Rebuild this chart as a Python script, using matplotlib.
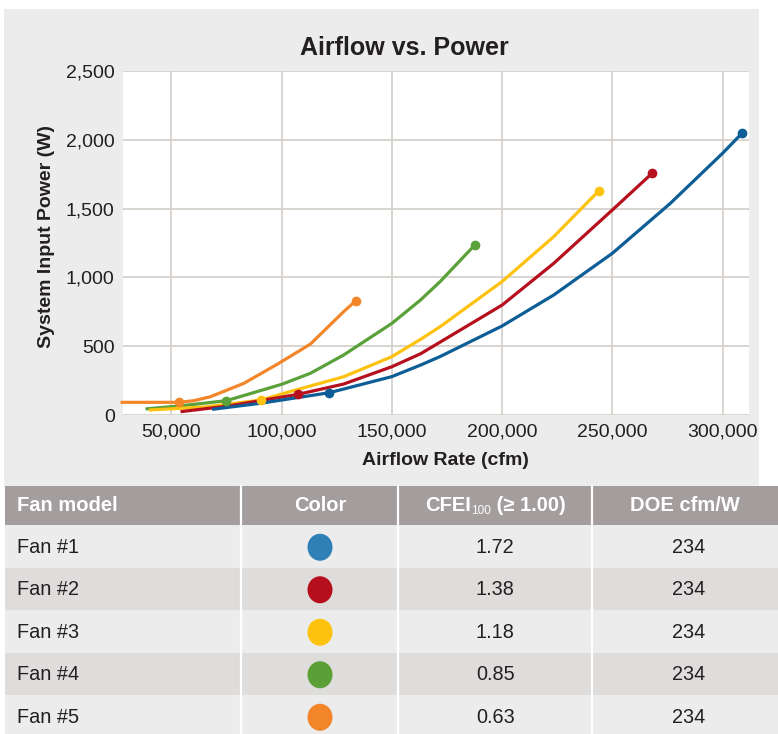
"""
Airflow vs. Power chart with the fan comparison table underneath.
"""

import matplotlib
matplotlib.use("Agg")
import matplotlib.pyplot as plt
from matplotlib.patches import Rectangle, Ellipse
from matplotlib.ticker import FuncFormatter

plt.rcParams["font.family"] = ["Liberation Sans", "DejaVu Sans"]

# --- data ---
fan1_cfm = [68400, 90300, 121600, 150000, 163000, 171900, 200000, 223400, 250000, 276300, 300000, 308800]
fan1_w = [41, 85, 162, 279, 363, 425, 647, 872, 1175, 1538, 1902, 2047]
fan2_cfm = [54100, 75500, 107400, 128100, 150000, 163000, 171900, 200000, 223400, 250000, 268000]
fan2_w = [24, 65, 150, 225, 351, 445, 530, 799, 1102, 1490, 1756]
fan3_cfm = [39700, 65000, 90800, 100000, 113000, 128100, 150000, 163000, 171900, 200000, 223400, 243800]
fan3_w = [36, 58, 109, 153, 211, 278, 424, 550, 642, 970, 1296, 1628]
fan4_cfm = [38200, 55000, 74900, 100000, 113000, 128100, 150000, 163000, 171900, 187600]
fan4_w = [44, 68, 104, 223, 303, 436, 666, 836, 970, 1235]
fan5_cfm = [26900, 40000, 53300, 60100, 67700, 82800, 97900, 113000, 128100, 133700]
fan5_w = [92, 92, 92, 104, 133, 230, 368, 515, 751, 831]

# design point + end point markers
fan1_mark_cfm, fan1_mark_w = [121600, 308800], [162, 2047]
fan2_mark_cfm, fan2_mark_w = [107400, 268000], [150, 1756]
fan3_mark_cfm, fan3_mark_w = [90800, 243800], [109, 1628]
fan4_mark_cfm, fan4_mark_w = [74900, 187600], [104, 1235]
fan5_mark_cfm, fan5_mark_w = [53300, 133700], [92, 831]

fan_names = ["Fan #1", "Fan #2", "Fan #3", "Fan #4", "Fan #5"]
cfei_values = ["1.72", "1.38", "1.18", "0.85", "0.63"]
doe_values = ["234", "234", "234", "234", "234"]
table_headers = ["Fan model", "Color", ("CFEI", "100", " (≥ 1.00)"), "DOE cfm/W"]

line_colors = ["#0d5d97", "#b6101f", "#fdc20f", "#5aa139", "#f3862a"]
dot_colors = ["#2e80b6", "#b50f1d", "#fdc210", "#5b9f37", "#f2852a"]

x_ticks = [50000, 100000, 150000, 200000, 250000, 300000]
y_ticks = [0, 500, 1000, 1500, 2000, 2500]

TEXT = "#231f20"
GRID = "#d2cec9"
PANEL = "#ebeceb"

W, H = 778, 734
fig = plt.figure(figsize=(W / 100, H / 100), dpi=100)
fig.patch.set_facecolor("white")

# grey panel behind the chart
fig.patches.append(Rectangle((4 / W, 1 - 487 / H), 755 / W, 478 / H,
                             transform=fig.transFigure, facecolor=PANEL,
                             edgecolor="none", zorder=-10))

ax = fig.add_axes([123 / W, 1 - 415 / H, 626 / W, 344 / H])
ax.set_facecolor("white")

series = [
    (fan1_cfm, fan1_w, fan1_mark_cfm, fan1_mark_w),
    (fan2_cfm, fan2_w, fan2_mark_cfm, fan2_mark_w),
    (fan3_cfm, fan3_w, fan3_mark_cfm, fan3_mark_w),
    (fan4_cfm, fan4_w, fan4_mark_cfm, fan4_mark_w),
    (fan5_cfm, fan5_w, fan5_mark_cfm, fan5_mark_w),
]
for i in [3, 2, 1, 0, 4]:
    cfm, watts, mcfm, mw = series[i]
    ax.plot(cfm, watts, color=line_colors[i], lw=2.3, solid_capstyle="butt",
            solid_joinstyle="round", clip_on=False, zorder=3)
    ax.plot(mcfm, mw, "o", color=line_colors[i], ms=7, mec="none",
            clip_on=False, zorder=4)

ax.set_xlim(28000, 312000)
ax.set_ylim(0, 2500)
ax.set_xticks(x_ticks)
ax.set_yticks(y_ticks)
fmt = FuncFormatter(lambda v, p: f"{int(v):,}")
ax.xaxis.set_major_formatter(fmt)
ax.yaxis.set_major_formatter(fmt)
ax.tick_params(length=0, labelsize=14, colors=TEXT)
ax.tick_params(axis="x", pad=6)
ax.tick_params(axis="y", pad=6)
ax.grid(True, color=GRID, lw=1.2, zorder=0)
ax.set_axisbelow(True)
for s in ax.spines.values():
    s.set_visible(False)

fig.text(404 / W, 1 - 48 / H, "Airflow vs. Power", ha="center", va="center",
         fontsize=18, fontweight="bold", color=TEXT)
fig.text(445 / W, 1 - 460 / H, "Airflow Rate (cfm)", ha="center", va="center",
         fontsize=14, fontweight="bold", color=TEXT)
fig.text(47 / W, 1 - 236 / H, "System Input Power (W)", ha="center", va="center",
         rotation=90, fontsize=14, fontweight="bold", color=TEXT)

# --- table, drawn in pixel coordinates ---
tab = fig.add_axes([0, 0, 1, 1])
tab.set_xlim(0, W)
tab.set_ylim(H, 0)
tab.axis("off")
tab.patch.set_alpha(0)

col_edges = [5, 241.5, 398.5, 592, 778]
header_top, header_bot = 486, 525
row_h = 42.5

tab.add_patch(Rectangle((col_edges[0], header_top), col_edges[-1] - col_edges[0],
                        header_bot - header_top, facecolor="#a39e9d", edgecolor="none"))
for r in range(len(fan_names)):
    y0 = header_bot + r * row_h
    tab.add_patch(Rectangle((col_edges[0], y0), col_edges[-1] - col_edges[0], row_h,
                            facecolor=PANEL if r % 2 == 0 else "#dedddc", edgecolor="none"))
for xe in col_edges[1:-1]:
    tab.plot([xe, xe], [header_top, H], color="white", lw=1.6)

centers = [(col_edges[i] + col_edges[i + 1]) / 2 for i in range(4)]
hy = (header_top + header_bot) / 2
hsize = 14.5
tab.text(17, hy, table_headers[0], ha="left", va="center", color="white",
         fontsize=hsize, fontweight="bold")
for c in (1, 3):
    tab.text(centers[c], hy, table_headers[c], ha="center", va="center",
             color="white", fontsize=hsize, fontweight="bold")

# CFEI header with small subscript, pieced together
renderer = fig.canvas.get_renderer()
main, sub, rest = table_headers[2]
t1 = tab.text(0, hy, main, ha="left", va="center", color="white", fontsize=hsize, fontweight="bold")
t2 = tab.text(0, hy + 6, sub, ha="left", va="center", color="white", fontsize=8.5)
t3 = tab.text(0, hy, rest, ha="left", va="center", color="white", fontsize=hsize, fontweight="bold")
w1 = t1.get_window_extent(renderer).width
w2 = t2.get_window_extent(renderer).width
w3 = t3.get_window_extent(renderer).width
x0 = centers[2] - (w1 + w2 + w3) / 2
t1.set_x(x0)
t2.set_x(x0 + w1 + 0.5)
t3.set_x(x0 + w1 + w2)

bsize = 14.3
for r in range(len(fan_names)):
    yc = header_bot + r * row_h + row_h / 2 + 1
    tab.text(17, yc, fan_names[r], ha="left", va="center", color=TEXT, fontsize=bsize)
    tab.add_patch(Ellipse((centers[1], yc), 25, 27, facecolor=dot_colors[r], edgecolor="none"))
    tab.text(centers[2], yc, cfei_values[r], ha="center", va="center", color=TEXT, fontsize=bsize)
    tab.text(centers[3] + 4, yc, doe_values[r], ha="center", va="center", color=TEXT, fontsize=bsize)

fig.savefig("out.png", dpi=100)
